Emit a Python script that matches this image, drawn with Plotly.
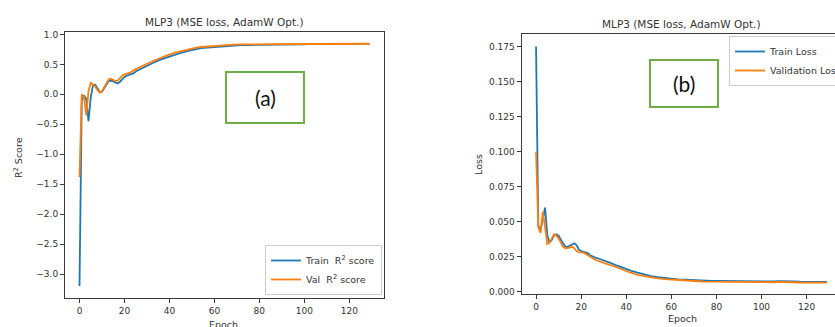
import plotly.graph_objects as go

W, H = 835, 327

# ---------------- data ----------------
epochs = list(range(0, 31)) + list(range(33, 130, 3))

train_r2 = [-3.20, -0.10, -0.02, -0.08, -0.45, -0.05, 0.15, 0.16, 0.10, 0.04,
            0.04, 0.10, 0.17, 0.22, 0.23, 0.21, 0.19, 0.18, 0.21, 0.26,
            0.29, 0.31, 0.32, 0.33, 0.35, 0.38, 0.40, 0.42, 0.44, 0.46, 0.48,
            0.53, 0.58, 0.62, 0.66, 0.69, 0.72, 0.75, 0.77, 0.78, 0.79,
            0.80, 0.81, 0.815, 0.82, 0.823, 0.826, 0.828, 0.830, 0.831, 0.832,
            0.833, 0.834, 0.835, 0.836, 0.836, 0.837, 0.838, 0.838, 0.839, 0.840,
            0.841, 0.842, 0.843]

val_r2 = [-1.38, 0.00, -0.05, -0.35, 0.05, 0.19, 0.17, 0.13, 0.07, 0.03,
          0.05, 0.12, 0.19, 0.25, 0.26, 0.24, 0.22, 0.23, 0.27, 0.31,
          0.33, 0.34, 0.35, 0.37, 0.40, 0.42, 0.44, 0.46, 0.47, 0.49, 0.51,
          0.56, 0.61, 0.65, 0.69, 0.72, 0.75, 0.77, 0.79, 0.80, 0.81,
          0.82, 0.825, 0.83, 0.832, 0.834, 0.835, 0.836, 0.837, 0.838, 0.838,
          0.839, 0.839, 0.840, 0.840, 0.840, 0.841, 0.842, 0.842, 0.842, 0.843,
          0.843, 0.844, 0.844]

train_loss = [0.175, 0.047, 0.044, 0.052, 0.060, 0.040, 0.035, 0.037, 0.040, 0.041,
              0.040, 0.037, 0.034, 0.032, 0.032, 0.033, 0.034, 0.0345, 0.033, 0.030,
              0.029, 0.0285, 0.028, 0.0275, 0.026, 0.025, 0.0245, 0.024, 0.0235, 0.023, 0.0225,
              0.0205, 0.0185, 0.0165, 0.015, 0.0135, 0.012, 0.011, 0.0103, 0.0097, 0.0092,
              0.0088, 0.0085, 0.0082, 0.0080, 0.0078, 0.0077, 0.0076, 0.0075, 0.0074, 0.0074,
              0.0073, 0.0073, 0.0072, 0.0072, 0.0073, 0.0075, 0.0076, 0.0073, 0.0071, 0.0071,
              0.0071, 0.0070, 0.0070]

val_loss = [0.100, 0.046, 0.042, 0.057, 0.046, 0.034, 0.035, 0.038, 0.041, 0.040,
            0.038, 0.035, 0.032, 0.031, 0.031, 0.0315, 0.032, 0.031, 0.029, 0.028,
            0.028, 0.0278, 0.027, 0.026, 0.0245, 0.0235, 0.023, 0.0222, 0.0215, 0.021, 0.0205,
            0.019, 0.017, 0.015, 0.0135, 0.012, 0.011, 0.010, 0.0094, 0.0089, 0.0085,
            0.0081, 0.0078, 0.0076, 0.0074, 0.0072, 0.0071, 0.0070, 0.0069, 0.0068, 0.0068,
            0.0067, 0.0067, 0.0066, 0.0066, 0.0067, 0.0069, 0.0070, 0.0067, 0.0065, 0.0065,
            0.0065, 0.0064, 0.0064]

x_ticks = [0, 20, 40, 60, 80, 100, 120]
r2_ticks = [-3.0, -2.5, -2.0, -1.5, -1.0, -0.5, 0.0, 0.5, 1.0]
r2_ticklabels = ["\u22123.0", "\u22122.5", "\u22122.0", "\u22121.5", "\u22121.0", "\u22120.5", "0.0", "0.5", "1.0"]
loss_ticks = [0.0, 0.025, 0.05, 0.075, 0.1, 0.125, 0.15, 0.175]
loss_ticklabels = ["0.000", "0.025", "0.050", "0.075", "0.100", "0.125", "0.150", "0.175"]

title_text = "MLP3 (MSE loss, AdamW Opt.)"

# ---------------- styling ----------------
BLUE = "#1f77b4"
ORANGE = "#ff7f0e"
AX = "#3a3a3a"
TXT = "#333333"
FONT = "DejaVu Sans"
GREEN = "#70AD47"


def px(x):
    return x / W


def py(y):
    return 1 - y / H


fig = go.Figure()
fig.add_trace(go.Scatter(x=epochs, y=train_r2, mode="lines", name="Train  R<sup>2</sup> score",
                         line=dict(color=BLUE, width=1.8), xaxis="x", yaxis="y", legend="legend"))
fig.add_trace(go.Scatter(x=epochs, y=val_r2, mode="lines", name="Val  R<sup>2</sup> score",
                         line=dict(color=ORANGE, width=1.8), xaxis="x", yaxis="y", legend="legend"))
fig.add_trace(go.Scatter(x=epochs, y=train_loss, mode="lines", name="Train Loss",
                         line=dict(color=BLUE, width=1.8), xaxis="x2", yaxis="y2", legend="legend2"))
fig.add_trace(go.Scatter(x=epochs, y=val_loss, mode="lines", name="Validation Loss",
                         line=dict(color=ORANGE, width=1.8), xaxis="x2", yaxis="y2", legend="legend2"))

axis_common = dict(showline=True, linecolor=AX, linewidth=1, ticks="outside", ticklen=4,
                   tickwidth=1, tickcolor=AX, showgrid=False, zeroline=False,
                   tickfont=dict(family=FONT, size=9, color=TXT))

fig.update_layout(
    width=W, height=H,
    margin=dict(l=0, r=0, t=0, b=0, autoexpand=False),
    paper_bgcolor="white", plot_bgcolor="white",
    template="none",
    xaxis=dict(domain=[px(65), px(384)], range=[-6.45, 135.45], tickvals=x_ticks,
               mirror=True, anchor="y", **axis_common),
    yaxis=dict(domain=[py(298), py(32)], range=[-3.40, 1.04], tickvals=r2_ticks,
               ticktext=r2_ticklabels, mirror=True, anchor="x", **axis_common),
    xaxis2=dict(domain=[px(521.5), 1.0], range=[-6.45, 132.6], tickvals=x_ticks,
                mirror=True, anchor="y2", **axis_common),
    yaxis2=dict(domain=[py(294), py(34)], range=[-0.0017, 0.184], tickvals=loss_ticks,
                ticktext=loss_ticklabels, mirror=False, anchor="x2", **axis_common),
    legend=dict(x=px(382), xanchor="right", y=py(295), yanchor="bottom",
                bgcolor="rgba(255,255,255,0.85)", bordercolor="#cccccc", borderwidth=1,
                font=dict(family=FONT, size=9.5, color=TXT), itemwidth=30,
                tracegroupgap=0),
    legend2=dict(x=px(729), xanchor="left", y=py(36), yanchor="top",
                 bgcolor="rgba(255,255,255,0.85)", bordercolor="#cccccc", borderwidth=1,
                 font=dict(family=FONT, size=9.5, color=TXT), itemwidth=30,
                 tracegroupgap=0),
    showlegend=True,
)

annots = [
    dict(text=title_text, x=px(224), y=py(21.5), size=10.5, angle=0),
    dict(text=title_text, x=px(681.5), y=py(24.5), size=10.5, angle=0),
    dict(text="R<sup>2</sup> Score", x=px(18), y=py(158), size=9.5, angle=-90),
    dict(text="Loss", x=px(479), y=py(164), size=9.5, angle=-90),
    dict(text="Epoch", x=px(223), y=py(324), size=9.5, angle=0),
    dict(text="Epoch", x=px(682), y=py(318.5), size=9.5, angle=0),
]
for a in annots:
    fig.add_annotation(text=a["text"], x=a["x"], y=a["y"], xref="paper", yref="paper",
                       xanchor="center", yanchor="middle", showarrow=False,
                       textangle=a["angle"], font=dict(family=FONT, size=a["size"], color=TXT))

# green labelled boxes
for (x0, x1, y0, y1, lab) in [(226, 304, 72, 123, "(a)"), (650, 718, 60, 107, "(b)")]:
    fig.add_shape(type="rect", xref="paper", yref="paper", x0=px(x0), x1=px(x1),
                  y0=py(y1), y1=py(y0), line=dict(color=GREEN, width=2), fillcolor="white")
    fig.add_annotation(text=lab, x=px((x0 + x1) / 2), y=py((y0 + y1) / 2), xref="paper",
                       yref="paper", showarrow=False, xanchor="center", yanchor="middle",
                       font=dict(family="Lato", size=21, color="#111111"))

fig.write_html("out.html")
